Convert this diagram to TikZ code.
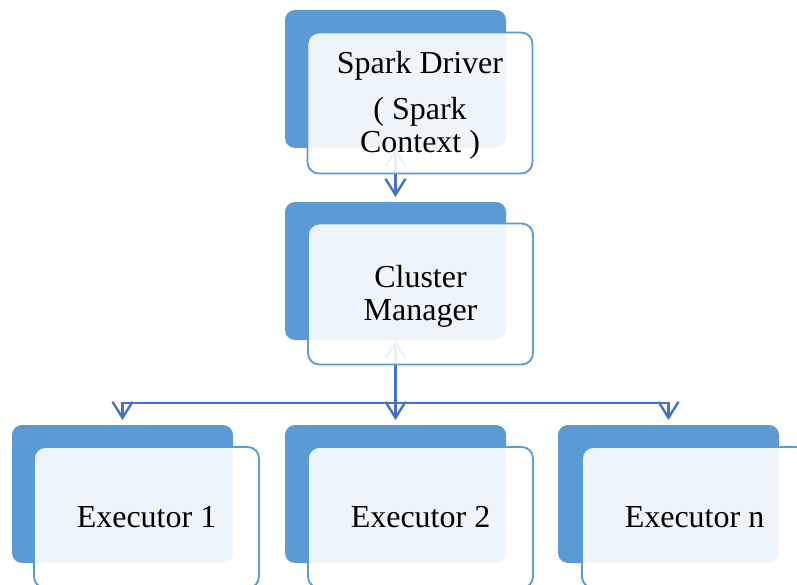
\documentclass[tikz,border=0pt]{standalone}
\usepackage{fontspec}
\setmainfont{Liberation Serif}
\usepackage{tikz}
\usetikzlibrary{arrows.meta}
\definecolor{back}{HTML}{5B9BD5}
\definecolor{edge}{HTML}{5B9BD5}
\definecolor{conn}{HTML}{4472C4}
\tikzset{
  backbox/.style={fill=back, rounded corners=7.5pt, minimum width=165.75pt, minimum height=103.5pt, inner sep=0pt},
  frontbox/.style={draw=edge, line width=1.4pt, fill=white, fill opacity=0.9, text opacity=1, rounded corners=8.5pt,
    minimum width=168.75pt, minimum height=105.75pt, inner sep=0pt, align=center, font=\fontsize{24}{24.5}\selectfont},
  link/.style={draw=conn, line width=1.8pt},
  tip/.tip={Straight Barb[length=12pt, width=15pt]}
}
\begin{document}
\begin{tikzpicture}[x=0.75pt, y=-0.75pt]
  \clip (0,0) rectangle (797,585);

  \node[backbox] (drvB) at (395.5,79) {};
  \node[backbox] (cmB) at (395.5,271) {};
  \node[backbox] (ex1B) at (122.5,494) {};
  \node[backbox] (ex2B) at (395.5,494) {};
  \node[backbox] (exnB) at (668.5,494) {};

  \coordinate (bus) at (395.5,403);

  \draw[link, tip-tip, shorten >=3.5pt] (drvB.south) -- (cmB.north);
  \draw[link, tip-] (cmB.south) -- (bus);
  \draw[link, -tip, shorten >=3.5pt] (bus) -- (ex2B.north);
  \draw[link, -tip, shorten >=3.5pt] (bus) -| (ex1B.north);
  \draw[link, -tip, shorten >=3.5pt] (bus) -| (exnB.north);

  \node[frontbox] (drv) at (420,103) {\rule{0pt}{20pt}Spark Driver\\[10pt]( Spark\\Context )};
  \node[frontbox] (cm) at (420.5,294) {\rule{0pt}{20pt}Cluster\\Manager};
  \node[frontbox] (ex1) at (146.5,517.5) {Executor 1};
  \node[frontbox] (ex2) at (420.5,517.5) {Executor 2};
  \node[frontbox] (exn) at (694.5,517.5) {Executor n};
\end{tikzpicture}
\end{document}
